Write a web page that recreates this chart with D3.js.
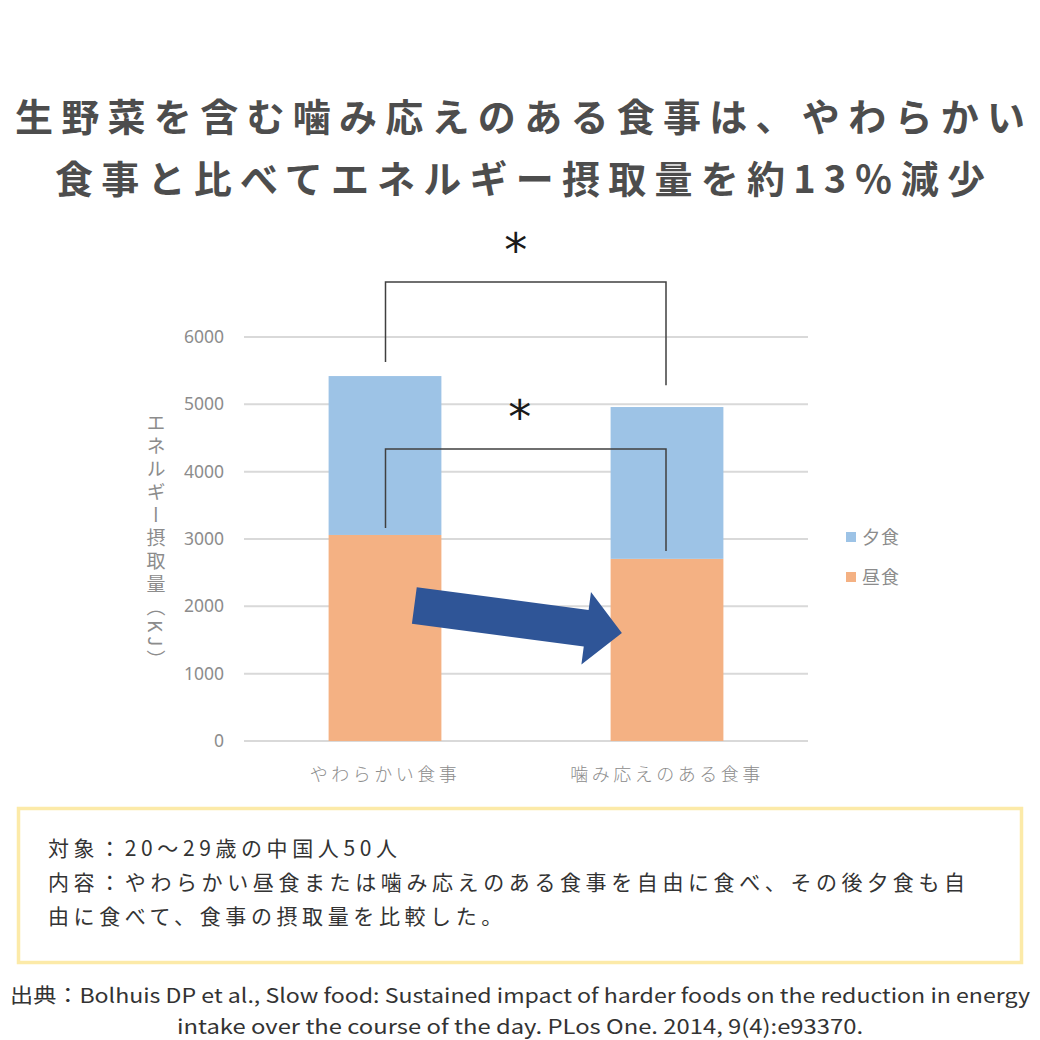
<!DOCTYPE html>
<html><head><meta charset="utf-8">
<script src="https://cdn.jsdelivr.net/npm/d3@7/dist/d3.min.js"></script>
<style>
html,body{margin:0;padding:0;background:#fff;}
svg{display:block;}
</style></head>
<body>
<svg id="c" width="1040" height="1040"></svg>
<script>
const titleLines = ["生野菜を含む噛み応えのある食事は、やわらかい", "食事と比べてエネルギー摂取量を約13％減少"];
const categories = ["やわらかい食事", "噛み応えのある食事"];
const lunch = [3060, 2705];
const dinner = [2360, 2255];
const seriesNames = ["昼食", "夕食"];
const yTicks = [0, 1000, 2000, 3000, 4000, 5000, 6000];
const yLabel = "エネルギー摂取量（KJ）";
// significance brackets: [top level, left end level, right end level]
const brackets = [[6815, 5630, 5285], [4335, 3165, 2820]];
const noteLines = ["対象：20〜29歳の中国人50人", "内容：やわらかい昼食または噛み応えのある食事を自由に食べ、その後夕食も自", "由に食べて、食事の摂取量を比較した。"];
const sourceLines = ["出典：Bolhuis DP et al., Slow food: Sustained impact of harder foods on the reduction in energy", "intake over the course of the day. PLos One. 2014, 9(4):e93370."];

const colors = {"昼食": "#F4B183", "夕食": "#9DC3E6"};
const svg = d3.select("#c");
const CJK = "'Noto Sans CJK JP','Noto Sans',sans-serif";

// Title
svg.selectAll("text.title").data(titleLines).join("text")
  .attr("class", "title")
  .attr("x", 520).attr("y", (d, i) => 131 + i * 62)
  .attr("text-anchor", "middle")
  .attr("font-family", CJK).attr("font-weight", "bold").attr("font-size", 38)
  .attr("fill", "#4d4d4d")
  .attr("textLength", (d, i) => i === 0 ? 1010 : 930)
  .attr("lengthAdjust", "spacing")
  .text(d => d);

// Scales
const x = d3.scaleBand().domain(categories).range([244, 808]).paddingInner(0.6).paddingOuter(0.3);
const y = d3.scaleLinear().domain([0, 6000]).range([741, 337]);

// Grid
svg.append("g").selectAll("line").data(yTicks).join("line")
  .attr("x1", 244).attr("x2", 808)
  .attr("y1", d => y(d)).attr("y2", d => y(d))
  .attr("stroke", "#d9d9d9").attr("stroke-width", 2);

// Y axis tick labels
const yAxis = d3.axisLeft(y).tickValues(yTicks).tickSize(0).tickPadding(0).tickFormat(d3.format("d"));
const ga = svg.append("g").attr("transform", "translate(224,0)").call(yAxis);
ga.select(".domain").remove();
ga.selectAll("text").attr("font-family", "'Noto Sans',sans-serif").attr("font-size", 17.5).attr("fill", "#8c8c8c");

// Y label (vertical)
svg.append("text")
  .attr("x", 156).attr("y", 413)
  .attr("font-family", CJK).attr("font-size", 19).attr("fill", "#8c8c8c")
  .style("writing-mode", "vertical-rl")
  .style("text-orientation", "mixed")
  .attr("letter-spacing", 4)
  .text(yLabel);

// Stacked bars
const rows = categories.map((c, i) => ({cat: c, "昼食": lunch[i], "夕食": dinner[i]}));
const stack = d3.stack().keys(seriesNames)(rows);
svg.append("g").selectAll("g").data(stack).join("g")
  .attr("fill", d => colors[d.key])
  .selectAll("rect").data(d => d).join("rect")
  .attr("x", d => x(d.data.cat)).attr("width", x.bandwidth())
  .attr("y", d => y(d[1])).attr("height", d => y(d[0]) - y(d[1]));

// X labels
svg.append("g").selectAll("text").data(categories).join("text")
  .attr("x", d => x(d) + x.bandwidth() / 2).attr("y", 781)
  .attr("text-anchor", "middle")
  .attr("font-family", CJK).attr("font-size", 18).attr("font-weight", 300).attr("fill", "#8c8c8c")
  .attr("letter-spacing", 3.5)
  .text(d => d);

// Legend
const legendItems = ["夕食", "昼食"];
const lg = svg.append("g").selectAll("g").data(legendItems).join("g")
  .attr("transform", (d, i) => `translate(846,${532 + i * 40})`);
lg.append("rect").attr("width", 10).attr("height", 10).attr("fill", d => colors[d]);
lg.append("text").attr("x", 16).attr("y", 11.5)
  .attr("font-family", CJK).attr("font-size", 18).attr("fill", "#8c8c8c")
  .attr("letter-spacing", 1)
  .text(d => d);

// Significance brackets
const cx0 = x(categories[0]) + x.bandwidth() / 2 + 0.5;
const cx1 = x(categories[1]) + x.bandwidth() / 2 - 1;
svg.append("g").selectAll("path").data(brackets).join("path")
  .attr("d", d => `M${cx0},${y(d[1])}V${y(d[0])}H${cx1}V${y(d[2])}`)
  .attr("fill", "none").attr("stroke", "#404040").attr("stroke-width", 1.5);
svg.append("g").selectAll("text").data(brackets).join("text")
  .attr("x", (d, i) => (cx0 + cx1) / 2 + (i === 0 ? -10 : -6))
  .attr("y", d => y(d[0]) - 16)
  .attr("text-anchor", "middle")
  .attr("font-family", "'DejaVu Sans',sans-serif").attr("font-size", 46).attr("fill", "#1a1a1a")
  .text("*");

// Arrow (annotation), anchored to bars via scales
const tail = [x(categories[0]) + x.bandwidth() * 0.76, y(2012)];
const tip = [x(categories[1]) + x.bandwidth() * 0.1, y(1604)];
const dx = tip[0] - tail[0], dy = tip[1] - tail[1];
const L = Math.hypot(dx, dy), ux = dx / L, uy = dy / L, nx = -uy, ny = ux;
const sw = 18.5, hw = 36.5, hl = 36;
const bx = tip[0] - ux * hl, by = tip[1] - uy * hl;
const pts = [
  [tail[0] - nx * sw, tail[1] - ny * sw],
  [bx - nx * sw, by - ny * sw],
  [bx - nx * hw, by - ny * hw],
  tip,
  [bx + nx * hw, by + ny * hw],
  [bx + nx * sw, by + ny * sw],
  [tail[0] + nx * sw, tail[1] + ny * sw]
];
svg.append("path").attr("d", d3.line()(pts) + "Z").attr("fill", "#2F5597");

// Note box
svg.append("rect").attr("x", 18.5).attr("y", 808.5).attr("width", 1003).attr("height", 154)
  .attr("fill", "none").attr("stroke", "#FCEAA8").attr("stroke-width", 3.5);
svg.append("g").selectAll("text").data(noteLines).join("text")
  .attr("x", 48).attr("y", (d, i) => 856 + i * 34)
  .attr("font-family", CJK).attr("font-size", 21).attr("fill", "#333")
  .attr("letter-spacing", 4.6)
  .text(d => d);

// Source
svg.append("g").selectAll("text").data(sourceLines).join("text")
  .attr("x", 520).attr("y", (d, i) => 1003 + i * 31)
  .attr("text-anchor", "middle")
  .attr("font-family", CJK).attr("font-size", 20).attr("fill", "#333")
  .attr("textLength", (d, i) => i === 0 ? 1020 : 686)
  .attr("lengthAdjust", "spacingAndGlyphs")
  .text(d => d);
</script>
</body></html>
